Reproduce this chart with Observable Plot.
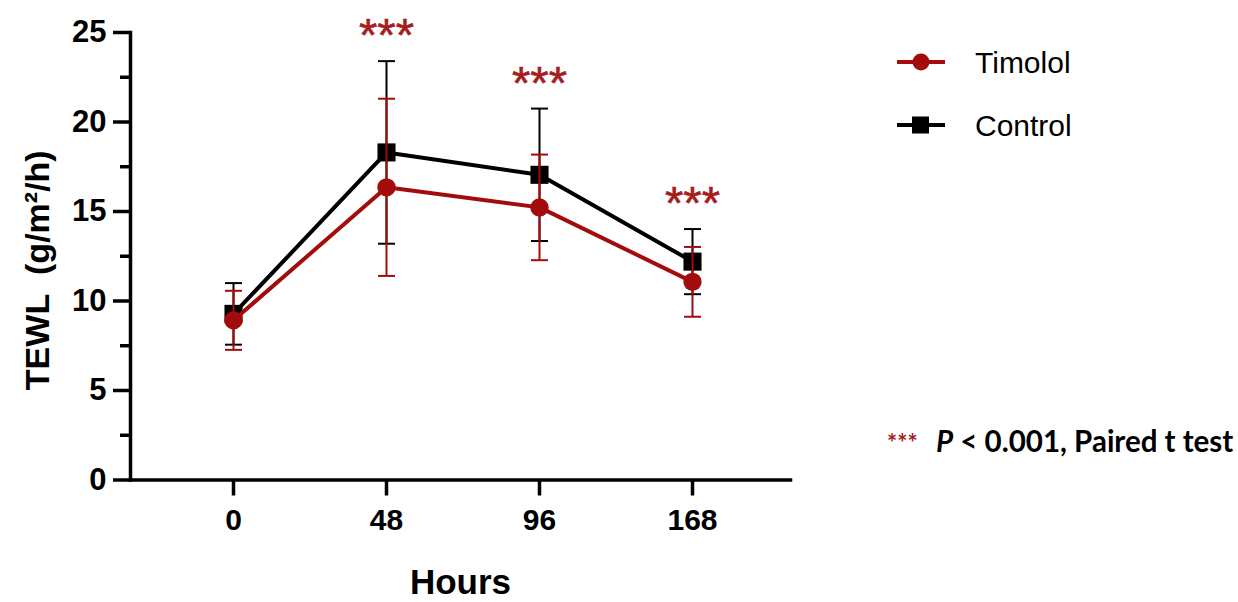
<!DOCTYPE html>
<html><head><meta charset="utf-8">
<script src="https://cdn.jsdelivr.net/npm/d3@7"></script>
<script src="https://cdn.jsdelivr.net/npm/@observablehq/plot@0.6"></script>
<style>
body{margin:0;background:#fff;}
#wrap{position:relative;width:1238px;height:602px;overflow:hidden;background:#fff;}
#wrap svg{position:absolute;left:0;top:0;}
</style></head><body><div id="wrap"></div>
<script>
// ---- data ----
const hours = ["0", "48", "96", "168"];
const timololMean = [8.92, 16.35, 15.23, 11.07];
const timololSD = [1.65, 4.95, 2.95, 1.95];
const controlMean = [9.28, 18.3, 17.05, 12.2];
const controlSD = [1.72, 5.1, 3.7, 1.82];
const significantHours = ["48", "96", "168"];
const yTicks = [0, 5, 10, 15, 20, 25];
const yMinorTicks = [2.5, 7.5, 12.5, 17.5, 22.5];
const groups = ["Timolol", "Control"];
const groupColors = ["#a30c0c", "#000000"];
const starColor = "#a51d1d";

const timololRows = hours.map((h, i) => ({hour: h, group: "Timolol", mean: timololMean[i], sd: timololSD[i]}));
const controlRows = hours.map((h, i) => ({hour: h, group: "Control", mean: controlMean[i], sd: controlSD[i]}));
const starRows = controlRows.filter(d => significantHours.includes(d.hour));

const capSymbol = {draw(ctx, size) { const r = Math.sqrt(size / Math.PI); ctx.moveTo(-r, 0); ctx.lineTo(r, 0); }};

function seriesMarks(rows, symbol, r) {
  return [
    Plot.line(rows, {x: "hour", y: "mean", stroke: "group", strokeWidth: 4}),
    Plot.ruleX(rows, {x: "hour", y1: d => d.mean - d.sd, y2: d => d.mean + d.sd, stroke: "group", strokeWidth: 2}),
    Plot.dot(rows, {x: "hour", y: d => d.mean + d.sd, symbol: capSymbol, r: 8.5, stroke: "group", fill: "none", strokeWidth: 2}),
    Plot.dot(rows, {x: "hour", y: d => d.mean - d.sd, symbol: capSymbol, r: 8.5, stroke: "group", fill: "none", strokeWidth: 2}),
    Plot.dot(rows, {x: "hour", y: "mean", symbol, r, fill: "group", stroke: "none"})
  ];
}

const font = "'Liberation Sans', Arial, sans-serif";

const chart = Plot.plot({
  width: 1238, height: 602,
  marginLeft: 130, marginRight: 448, marginTop: 32, marginBottom: 122.5,
  style: {fontFamily: font, background: "transparent", color: "#000", overflow: "visible"},
  x: {type: "point", domain: hours, range: [232, 693], padding: 0},
  y: {domain: [0, 25]},
  color: {domain: groups, range: groupColors},
  marks: [
    Plot.axisY({ticks: yMinorTicks, tickSize: 10, tickFormat: () => "", strokeWidth: 3.5, label: null}),
    Plot.axisY({ticks: yTicks, tickSize: 17, tickPadding: 7, fontSize: 31, fontWeight: "bold", strokeWidth: 3.5, label: null}),
    Plot.axisX({tickSize: 16, tickPadding: 13, fontSize: 30, fontWeight: "bold", strokeWidth: 3.5, label: null}),
    Plot.frame({anchor: "left", strokeWidth: 3.5, strokeLinecap: "square"}),
    Plot.frame({anchor: "bottom", strokeWidth: 3.5, strokeLinecap: "square"}),
    ...seriesMarks(controlRows, "square", 10.2),
    ...seriesMarks(timololRows, "circle", 9.2),
    Plot.text(starRows, {x: "hour", y: d => d.mean + d.sd, text: () => "***", dy: -25, fontSize: 47, fill: starColor, stroke: starColor, strokeWidth: 0.6}),
    Plot.text(["Hours"], {frameAnchor: "bottom", lineAnchor: "middle", dy: 103, fontSize: 35, fontWeight: "bold"}),
    Plot.text(["TEWL\u00a0 (g/m²/h)"], {frameAnchor: "left", textAnchor: "middle", lineAnchor: "middle", dx: -92, dy: 14, rotate: -90, fontSize: 34, fontWeight: "bold"})
  ]
});
document.getElementById("wrap").appendChild(chart);

// ---- legend and footnote ----
const ov = d3.select("#wrap").append("svg").attr("width", 1238).attr("height", 602)
  .style("font-family", font);
const legendY = [62, 125];
groups.forEach((g, i) => {
  const c = groupColors[i];
  const y = legendY[i];
  ov.append("line").attr("x1", 897).attr("x2", 945).attr("y1", y).attr("y2", y).attr("stroke", c).attr("stroke-width", 4);
  if (g === "Timolol") ov.append("circle").attr("cx", 921).attr("cy", y).attr("r", 8.5).attr("fill", c);
  else ov.append("rect").attr("x", 912).attr("y", y - 8.5).attr("width", 17).attr("height", 17).attr("fill", c);
  ov.append("text").attr("x", 975).attr("y", y).attr("dy", "0.36em").attr("font-size", 30).attr("fill", "#000").text(g);
});
const fn = ov.append("text").attr("x", 887).attr("y", 452).attr("font-family", "Lato, 'Open Sans', sans-serif").attr("font-weight", "bold");
fn.append("tspan").attr("fill", starColor).attr("font-size", 24).text("***");
fn.append("tspan").attr("x", 936).attr("font-size", 29.5).attr("font-style", "italic").text("P");
fn.append("tspan").attr("font-size", 29.5).text(" < 0.001, Paired t test");
</script></body></html>
